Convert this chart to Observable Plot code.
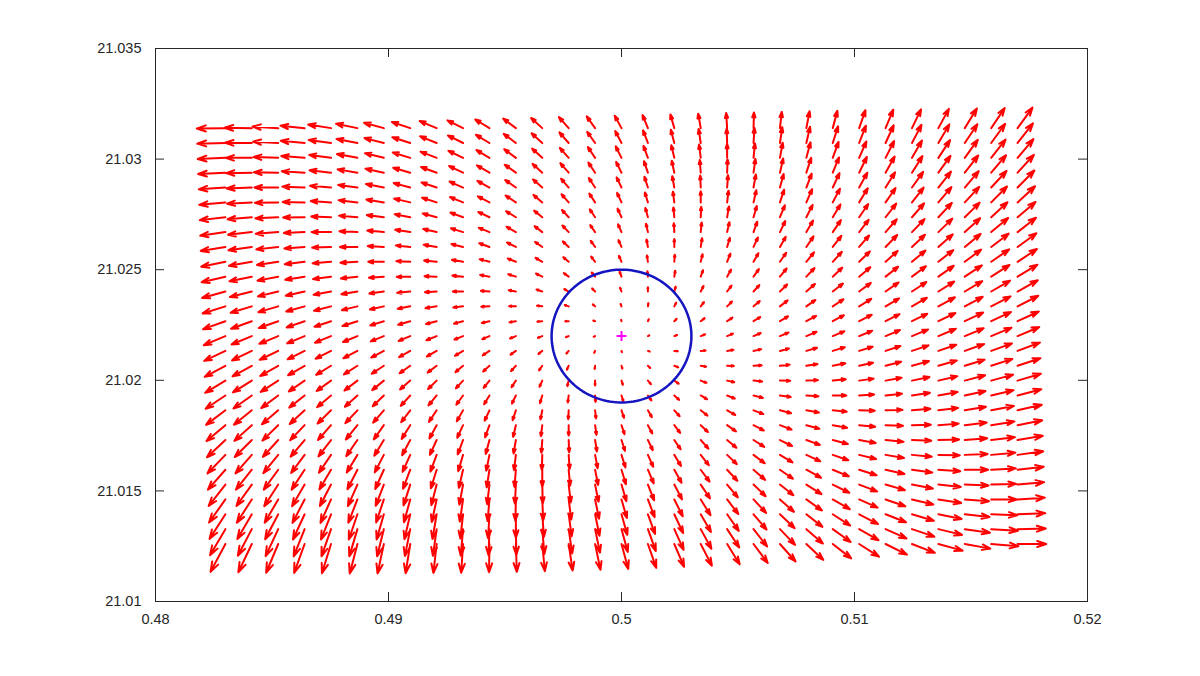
<!DOCTYPE html>
<html><head><meta charset="utf-8">
<script src="https://cdn.jsdelivr.net/npm/d3@7"></script>
<script src="https://cdn.jsdelivr.net/npm/@observablehq/plot@0.6"></script>
<style>html,body{margin:0;padding:0;background:#fff;}#chart{width:1200px;height:676px;}</style>
</head><body><div id="chart"></div>
<script>
// Grid of arrow tails (x: 31 columns left→right, y: 29 rows top→bottom)
const xGrid = [0.483,0.4841333,0.4852667,0.4864,0.4875333,0.4886667,0.4898,0.4909333,0.4920667,0.4932,0.4943333,0.4954667,0.4966,0.4977333,0.4988667,0.5,0.5011333,0.5022667,0.5034,0.5045333,0.5056667,0.5068,0.5079333,0.5090667,0.5102,0.5113333,0.5124667,0.5136,0.5147333,0.5158667,0.517];
const yGrid = [21.0314,21.0307286,21.0300571,21.0293857,21.0287143,21.0280429,21.0273714,21.0267,21.0260286,21.0253571,21.0246857,21.0240143,21.0233429,21.0226714,21.022,21.0213286,21.0206571,21.0199857,21.0193143,21.0186429,21.0179714,21.0173,21.0166286,21.0159571,21.0152857,21.0146143,21.0139429,21.0132714,21.0126];
// vector components in units of 1e-5 (data units), rows top→bottom, columns left→right
const vectorUnit = 1e-5;
const U = [
[-123,-117,-110,-104,-98,-92,-85,-79,-73,-67,-61,-54,-48,-42,-36,-29,-23,-17,-11,-4,2,8,14,20,27,33,39,45,52,58,64],
[-121,-115,-108,-102,-96,-90,-83,-77,-71,-65,-58,-52,-46,-40,-34,-27,-21,-15,-9,-2,4,10,16,23,29,35,41,47,54,60,66],
[-119,-112,-106,-100,-94,-88,-81,-75,-69,-63,-56,-50,-44,-38,-31,-25,-19,-13,-7,0,6,12,18,25,31,37,43,50,56,62,68],
[-117,-110,-104,-98,-92,-85,-79,-73,-67,-60,-54,-48,-42,-36,-29,-23,-17,-11,-4,2,8,14,21,27,33,39,45,52,58,64,70],
[-114,-108,-102,-96,-90,-83,-77,-71,-65,-58,-52,-46,-40,-33,-27,-21,-15,-9,-2,4,10,16,23,29,35,41,48,54,60,66,72],
[-112,-106,-100,-94,-87,-81,-75,-69,-63,-56,-50,-44,-38,-31,-25,-19,-13,-6,0,6,12,18,25,31,37,43,50,56,62,68,75],
[-110,-104,-98,-92,-85,-79,-73,-67,-60,-54,-48,-42,-35,-29,-23,-17,-11,-4,2,8,14,21,27,33,39,46,52,58,64,70,77],
[-108,-102,-96,-89,-83,-77,-71,-65,-58,-52,-46,-40,-33,-27,-21,-15,-8,-2,4,10,16,23,29,35,41,48,54,60,66,73,79],
[-106,-100,-94,-87,-81,-75,-69,-62,-56,-50,-44,-38,-31,-25,-19,-13,-6,0,6,12,19,25,31,37,43,50,56,62,68,75,81],
[-104,-98,-91,-85,-79,-73,-67,-60,-54,-48,-42,-35,-29,-23,-17,-11,-4,2,8,14,21,27,33,39,46,52,58,64,70,77,83],
[-102,-96,-89,-83,-77,-71,-64,-58,-52,-46,-40,-33,-27,-21,-15,-8,-2,4,10,17,23,29,35,41,48,54,60,66,73,79,85],
[-100,-94,-87,-81,-75,-69,-62,-56,-50,-44,-37,-31,-25,-19,-13,-6,0,6,12,19,25,31,37,44,50,56,62,68,75,81,87],
[-98,-91,-85,-79,-73,-67,-60,-54,-48,-42,-35,-29,-23,-17,-10,-4,2,8,14,21,27,33,39,46,52,58,64,71,77,83,89],
[-96,-89,-83,-77,-71,-64,-58,-52,-46,-39,-33,-27,-21,-15,-8,-2,4,10,17,23,29,35,42,48,54,60,66,73,79,85,91],
[-93,-87,-81,-75,-69,-62,-56,-50,-44,-37,-31,-25,-19,-12,-6,0,6,12,19,25,31,37,44,50,56,62,69,75,81,87,93],
[-91,-85,-79,-73,-66,-60,-54,-48,-42,-35,-29,-23,-17,-10,-4,2,8,15,21,27,33,39,46,52,58,64,71,77,83,89,96],
[-89,-83,-77,-71,-64,-58,-52,-46,-39,-33,-27,-21,-14,-8,-2,4,10,17,23,29,35,42,48,54,60,67,73,79,85,91,98],
[-87,-81,-75,-68,-62,-56,-50,-44,-37,-31,-25,-19,-12,-6,0,6,13,19,25,31,37,44,50,56,62,69,75,81,87,94,100],
[-85,-79,-73,-66,-60,-54,-48,-41,-35,-29,-23,-17,-10,-4,2,8,15,21,27,33,40,46,52,58,64,71,77,83,89,96,102],
[-83,-77,-70,-64,-58,-52,-46,-39,-33,-27,-21,-14,-8,-2,4,11,17,23,29,35,42,48,54,60,67,73,79,85,91,98,104],
[-81,-75,-68,-62,-56,-50,-43,-37,-31,-25,-19,-12,-6,0,6,13,19,25,31,38,44,50,56,62,69,75,81,87,94,100,106],
[-79,-73,-66,-60,-54,-48,-41,-35,-29,-23,-16,-10,-4,2,8,15,21,27,33,40,46,52,58,65,71,77,83,89,96,102,108],
[-77,-70,-64,-58,-52,-46,-39,-33,-27,-21,-14,-8,-2,4,11,17,23,29,35,42,48,54,60,67,73,79,85,92,98,104,110],
[-75,-68,-62,-56,-50,-43,-37,-31,-25,-18,-12,-6,0,6,13,19,25,31,38,44,50,56,63,69,75,81,87,94,100,106,112],
[-72,-66,-60,-54,-48,-41,-35,-29,-23,-16,-10,-4,2,9,15,21,27,33,40,46,52,58,65,71,77,83,90,96,102,108,114],
[-70,-64,-58,-52,-45,-39,-33,-27,-21,-14,-8,-2,4,11,17,23,29,36,42,48,54,60,67,73,79,85,92,98,104,110,117],
[-68,-62,-56,-50,-43,-37,-31,-25,-18,-12,-6,0,7,13,19,25,31,38,44,50,56,63,69,75,81,88,94,100,106,112,119],
[-66,-60,-54,-47,-41,-35,-29,-23,-16,-10,-4,2,9,15,21,27,34,40,46,52,58,65,71,77,83,90,96,102,108,115,121],
[-64,-58,-52,-45,-39,-33,-27,-20,-14,-8,-2,4,11,17,23,29,36,42,48,54,61,67,73,79,85,92,98,104,110,117,123]
];
const V = [
[-2,2,7,11,16,20,24,28,32,35,39,43,46,50,53,56,59,62,65,68,71,73,76,78,81,83,85,87,89,91,93],
[-3,1,6,10,14,18,22,26,30,34,37,41,44,48,51,54,57,60,63,65,68,71,73,75,78,80,82,84,85,87,89],
[-5,0,4,8,13,17,21,24,28,32,35,39,42,45,49,52,54,57,60,63,65,68,70,72,74,76,78,80,82,83,85],
[-6,-2,2,6,11,15,18,22,26,30,33,36,40,43,46,49,52,54,57,60,62,64,67,69,71,73,75,76,78,79,81],
[-8,-4,0,4,8,12,16,20,23,27,30,34,37,40,43,46,49,51,54,56,59,61,63,65,67,69,71,72,74,75,77],
[-11,-6,-2,2,6,10,13,17,21,24,27,31,34,37,40,43,45,48,50,53,55,57,60,62,64,65,67,69,70,72,73],
[-13,-9,-5,-1,3,7,10,14,17,21,24,27,30,33,36,39,42,44,47,49,51,54,56,58,60,62,63,65,66,68,69],
[-16,-12,-8,-4,0,4,7,11,14,17,20,24,27,30,32,35,38,40,43,45,47,50,52,54,56,58,59,61,63,64,65],
[-18,-15,-11,-7,-3,0,4,7,10,13,17,20,23,25,28,31,34,36,39,41,43,46,48,50,52,54,55,57,59,60,62],
[-22,-18,-14,-11,-7,-4,0,3,6,9,12,15,18,21,24,27,29,32,34,37,39,41,43,45,47,49,51,53,55,56,58],
[-25,-21,-18,-14,-11,-8,-5,-1,2,5,8,11,14,16,19,22,24,27,29,32,34,37,39,41,43,45,47,49,51,53,54],
[-29,-25,-22,-19,-15,-12,-9,-6,-3,0,3,6,9,11,14,17,19,22,25,27,29,32,34,36,39,41,43,45,47,49,51],
[-32,-29,-26,-23,-20,-17,-14,-11,-8,-5,-2,1,3,6,9,11,14,17,19,22,24,27,29,32,34,36,39,41,43,45,48],
[-36,-34,-31,-28,-25,-22,-19,-16,-13,-11,-8,-5,-2,0,3,6,9,11,14,16,19,22,24,27,29,32,34,37,39,42,44],
[-41,-38,-35,-33,-30,-27,-24,-22,-19,-16,-14,-11,-8,-5,-3,0,3,5,8,11,14,16,19,22,24,27,30,33,35,38,41],
[-45,-43,-40,-38,-35,-33,-30,-28,-25,-22,-20,-17,-14,-12,-9,-6,-3,-1,2,5,8,11,14,17,19,22,25,28,31,34,38],
[-50,-48,-46,-43,-41,-39,-36,-34,-31,-29,-26,-24,-21,-18,-15,-13,-10,-7,-4,-1,2,5,8,11,14,18,21,24,27,31,34],
[-55,-53,-51,-49,-47,-45,-43,-40,-38,-35,-33,-30,-28,-25,-22,-19,-16,-14,-10,-7,-4,-1,2,6,9,13,16,20,24,27,31],
[-60,-59,-57,-55,-53,-51,-49,-47,-45,-42,-40,-37,-35,-32,-29,-26,-23,-20,-17,-14,-11,-7,-4,0,4,8,12,16,20,24,28],
[-66,-65,-63,-62,-60,-58,-56,-54,-52,-50,-47,-45,-42,-40,-37,-34,-31,-27,-24,-21,-17,-13,-10,-6,-2,2,7,11,16,20,25],
[-72,-71,-70,-68,-67,-65,-64,-62,-60,-57,-55,-53,-50,-47,-44,-41,-38,-35,-31,-28,-24,-20,-16,-12,-7,-3,2,7,12,17,22],
[-78,-77,-76,-75,-74,-73,-71,-69,-67,-65,-63,-61,-58,-55,-52,-49,-46,-42,-39,-35,-31,-27,-22,-18,-13,-8,-3,2,8,13,19],
[-84,-84,-83,-82,-81,-80,-79,-77,-76,-74,-72,-69,-67,-64,-61,-57,-54,-50,-47,-42,-38,-34,-29,-24,-19,-14,-8,-2,4,10,16],
[-90,-90,-90,-90,-89,-88,-87,-86,-84,-82,-80,-78,-75,-72,-69,-66,-62,-59,-54,-50,-46,-41,-36,-30,-25,-19,-13,-7,0,6,13],
[-97,-97,-98,-98,-97,-97,-96,-94,-93,-91,-89,-87,-84,-81,-78,-75,-71,-67,-63,-58,-53,-48,-43,-37,-31,-25,-18,-11,-4,3,11],
[-104,-105,-105,-106,-106,-105,-104,-103,-102,-100,-98,-96,-94,-91,-87,-84,-80,-76,-71,-66,-61,-56,-50,-44,-37,-31,-23,-16,-8,0,8],
[-111,-112,-113,-114,-114,-114,-114,-113,-112,-110,-108,-106,-103,-100,-97,-93,-89,-85,-80,-75,-69,-63,-57,-51,-44,-36,-29,-21,-12,-4,5],
[-118,-120,-122,-123,-123,-123,-123,-122,-121,-120,-118,-116,-113,-110,-107,-103,-99,-94,-89,-83,-78,-71,-65,-58,-50,-42,-34,-26,-16,-7,3],
[-126,-128,-130,-131,-132,-133,-133,-132,-131,-130,-128,-126,-123,-120,-117,-113,-108,-103,-98,-92,-86,-79,-72,-65,-57,-48,-40,-30,-21,-10,0]
];
const xTicks = [0.48, 0.49, 0.5, 0.51, 0.52];
const xTickLabels = ["0.48", "0.49", "0.5", "0.51", "0.52"];
const yTicks = [21.01, 21.015, 21.02, 21.025, 21.03, 21.035];
const yTickLabels = ["21.01", "21.015", "21.02", "21.025", "21.03", "21.035"];
const xDomain = [0.48, 0.52];
const yDomain = [21.01, 21.035];
const root = {x: 0.5, y: 21.022};
const circleRadius = 0.003;

const vectors = [];
yGrid.forEach((y, r) => xGrid.forEach((x, c) => {
  vectors.push({x1: x, y1: y, x2: x + U[r][c] * vectorUnit, y2: y + V[r][c] * vectorUnit});
}));
const circle = d3.range(0, 361, 2).map(a => ({
  x: root.x + circleRadius * Math.cos(a * Math.PI / 180),
  y: root.y + circleRadius * Math.sin(a * Math.PI / 180)
}));

const W = 1200, H = 676, mL = 155, mR = 113, mT = 48, mB = 75;
const pw = W - mL - mR, ph = H - mT - mB, tk = 9;
const axisColor = "#262626";
const font = "'Liberation Sans', Arial, Helvetica, sans-serif";

const chart = Plot.plot({
  width: W, height: H,
  marginLeft: mL, marginRight: mR, marginTop: mT, marginBottom: mB,
  style: {fontFamily: font, fontSize: "14px", color: axisColor, background: "#fff"},
  x: {domain: xDomain},
  y: {domain: yDomain},
  marks: [
    Plot.arrow(vectors, {x1: "x1", y1: "y1", x2: "x2", y2: "y2", stroke: "#ff0000", strokeWidth: 2, headAngle: 37, headLength: 40}),
    Plot.line(circle, {x: "x", y: "y", stroke: "#1414c0", strokeWidth: 2.5}),
    Plot.dot([root], {x: "x", y: "y", symbol: "plus", r: 3.3, stroke: "#ff00ff", strokeWidth: 2}),
    Plot.frame({stroke: axisColor}),
    Plot.tickX(xTicks, {x: d => d, insetTop: ph - tk, stroke: axisColor}),
    Plot.tickX(xTicks, {x: d => d, insetBottom: ph - tk, stroke: axisColor}),
    Plot.tickY(yTicks, {y: d => d, insetRight: pw - tk, stroke: axisColor}),
    Plot.tickY(yTicks, {y: d => d, insetLeft: pw - tk, stroke: axisColor}),
    Plot.axisX({ticks: xTicks, tickSize: 0, tickPadding: 12, fontSize: 14.5, fill: axisColor, tickFormat: d => xTickLabels[xTicks.indexOf(d)], label: null}),
    Plot.axisY({ticks: yTicks, tickSize: 0, tickPadding: 14, fontSize: 14.5, fill: axisColor, tickFormat: d => yTickLabels[yTicks.indexOf(d)], label: null})
  ]
});
document.getElementById("chart").appendChild(chart);
</script></body></html>
